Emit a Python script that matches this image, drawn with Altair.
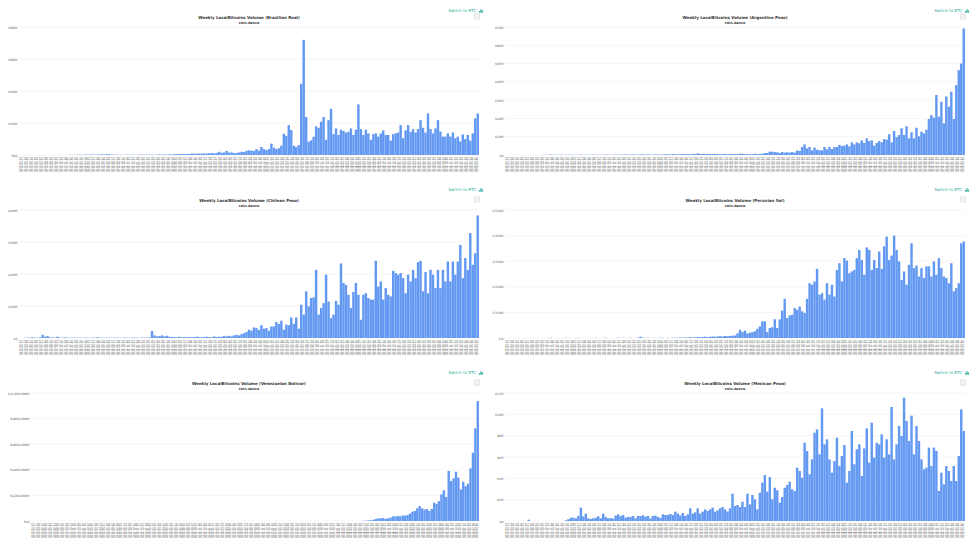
import altair as alt
import pandas as pd

dates = [d.strftime("%Y-%m-%d") for d in pd.date_range("2013-03-17", periods=185, freq="14D")]

brl = [0,0,0,0,0,0,0,0,0,0,0,0,0,0,0,0,0,0,0,0,
 .1,.1,.1,.1,.2,.1,.2,.2,.2,.3,.2,.3,.3,.4,.3,.5,.4,.2,.2,.2,
 .1,.1,.1,.2,.1,.2,.1,.1,.2,.2,.1,.2,.2,.2,.1,.2,.3,.2,.3,.2,
 .4,.3,.5,.5,.6,.5,.7,.6,.7,.9,.8,.8,.9,.8,1,.9,1.1,1.2,1,1.3,2,1.4,1.6,2.5,1.5,1.6,1.2,1.3,1.6,2,1.8,2.6,
 2.9,2.7,2.5,3.7,2.7,5,3.7,3.1,3.7,7.1,4.6,3.7,4.2,5.8,13.3,12,18.7,15.6,5.8,5,6.2,44.5,72,23.7,8.3,9.2,11.4,17.9,17,20.8,23.7,9.5,21.8,28.9,13,16.6,12.5,15.8,15,14,14.5,16.6,12.5,15.8,31.6,16.2,12.5,15.8,13.5,9.5,13,13.5,11.5,13.5,15.4,12.5,12.5,9,13,13.5,14,18.7,10.5,15.4,18.7,14.5,16.2,14,16.2,21.8,17,14,26,16.2,13.5,16.6,21.8,14.6,11.5,11.5,13.5,11.5,14.1,10.5,11.5,8.5,12.9,10,12.5,9,13.5,22.9,26]

ars = [0,0,0,0,0,0,0,0,0,0,0,0,0,0,0,.1,.1,.1,.2,.1,.1,.1,.2,.1,.1,.1,.2,.1,.1,.1,.2,.1,.1,.1,.1,.2,.1,.1,.1,.1,.2,.2,.1,.1,.2,.1,
 .2,.2,.3,.2,.2,.3,.2,.2,.3,.3,.2,.3,.2,.2,.3,.3,.2,.3,.4,.3,.3,.5,.4,.3,.4,.5,.4,.5,.4,.6,.5,.9,.5,.6,.5,.6,.5,.5,.6,.5,.4,.5,.6,.4,.5,.5,
 .5,.5,.7,.7,.5,.5,.4,.5,.7,.5,.5,.7,1.1,1.1,1.8,1.8,1.6,1.5,1.1,1.6,1.3,1.5,1.3,1.6,1.3,2.5,2.2,4.4,5.8,3.6,4.4,2.5,4,2.9,2.7,2.5,4.4,3.1,4.4,3.3,4.4,4.4,5.5,4.9,5.1,5.8,4.7,6.9,5.8,6.9,6.4,8,6.6,9.1,7.6,8,5.1,6.6,7.6,6.9,8.7,8.4,11.3,6.9,13.1,9.8,10.9,14.6,10.9,15.7,9.1,12.4,9.1,14.9,10.2,12.7,11.8,13.8,19.7,21.8,20.4,32.8,20.9,29.1,17.3,32,26.4,34.6,19.7,38.2,46.4,50,69.2]

clp = [0,.5,1,.5,2,1,1,2,10,4,6,2,2,1,4,1,1,2,1,.5,1,1,.5,1,.5,1,1,.5,1,1,2,1,1,.5,1,1,.5,1,1,.5,.5,1,1,.5,1,1,1,.5,1,1,1,2,22,8,5,6,8,5,7,4,3,3,2,4,2,3,2,3,2,3,4,3,2,3,4,3,2,5,3,4,4,6,5,7,5,8,10,8,12,15,19,
 26,23,33,31,25,40,29,31,23,36,36,50,44,54,26,42,40,64,44,64,29,104,73,146,99,125,127,213,73,94,109,198,114,62,73,116,104,233,172,166,135,94,144,172,135,57,135,140,125,120,120,241,161,177,120,156,135,130,210,203,198,203,187,140,198,177,213,187,237,241,146,206,140,213,198,156,213,156,213,177,239,177,239,198,239,291,187,250,213,328,229,265,383]

pen = [0,0,0,0,0,0,0,0,0,0,0,0,0,0,0,0,1,0,0,0,0,0,1,0,0,0,0,1,0,0,0,0,0,0,1,0,0,0,1,0,0,0,0,1,0,1,0,0,1,0,0,1,5,1,0,1,0,0,1,0,1,1,0,1,0,1,1,1,2,1,2,2,3,2,3,4,3,4,5,4,5,6,5,6,7,6,8,7,8,9,
 10,18,32,23,29,18,21,23,26,36,45,65,65,23,39,42,73,39,73,107,153,78,88,91,117,110,123,104,98,153,214,208,221,270,169,175,150,214,169,208,162,266,292,221,312,302,253,260,266,312,344,305,247,354,344,266,305,273,338,270,358,396,305,322,400,344,299,227,260,208,286,370,273,283,240,273,234,280,280,240,299,247,312,273,240,234,214,292,182,195,214,370,377]

ves = [1.3,2.6,5,5,10,16,21,21,23,16,21,26,36,36,39,36,44,42,47,57,73,78,99,117,99,89,94,78,94,143,135,156,208,240,187,391,312,333,385,339,247,307,273,292,411,534,724,937]

mxn = [.12,0,0,0,0,0,0,0,0,0,0,0,0,0,0,.06,.16,.31,.31,.25,.47,1.25,.44,.69,.25,.19,.25,.31,.44,.25,.69,.38,.25,.28,.22,.5,.62,.47,.56,.31,.38,.38,.47,.25,.47,.47,.53,.41,.47,.25,.47,.5,.38,.28,.62,.56,.56,.66,.56,.88,.69,.53,.75,.47,.62,1.19,.69,.81,1.19,.69,.88,1.09,.94,1.09,1.25,.88,1,1.19,1.31,1.09,.88,
 1.19,2.56,1.41,1.5,1.31,1.81,1.31,2.56,1.56,2.44,2.03,1.09,2.66,3.59,4.31,2.75,4.12,2.03,3.12,2.88,1.72,2.25,3.12,3.38,3.69,2.97,2.81,5,4.69,4.06,7.34,6.56,4.38,5.78,8.28,8.59,6.25,10.56,7.19,7.66,5.78,4.53,5.62,7.81,5.16,6.09,7.12,3.59,4.69,8.44,5.31,6.72,7.19,4.22,6.81,8.69,5.47,9.22,5.94,7.34,7.19,8.12,5.94,7.66,6.25,10.69,5.78,7.19,8.91,7.97,11.56,9.38,7.5,9.88,6.25,8.91,7.5,5.78,4.84,5,6.88,5.16,6.88,6.56,2.81,4.53,3.44,5.16,4.69,3.75,5.16,3.75,6.09,10.47,8.44]

BAR = "#6499f2"
TEAL = "#26a99a"
W, H = 460, 128
ICON = "M-1,1V0H-.45V1ZM-.3,1V-1H.3V1ZM.45,1V-.4H1V1Z"


def panel(name, values, ticks, label_expr, left=0, switch_y=-20):
    df = pd.DataFrame({"date": dates[-len(values):], "value": values})
    top = ticks[-1]
    y_scale = alt.Scale(domain=[0, top], nice=False)
    y_axis = alt.Axis(title=None, values=ticks, labelExpr=label_expr, grid=False, ticks=False,
                      domain=False, labelFontSize=3.1, labelColor="#666", labelFont="DejaVu Sans",
                      labelPadding=2, offset=-left)
    x_enc = alt.X("date:N", sort=None,
                  scale=alt.Scale(domain=dates, range=[left, W], paddingInner=0.02, paddingOuter=0.02),
                  axis=alt.Axis(title=None, labelAngle=-90, labelFontSize=2.6, labelOverlap=False,
                                labelColor="#555", labelFont="DejaVu Sans", ticks=False, domain=False,
                                labelPadding=1.5, grid=False))
    grid = alt.Chart(pd.DataFrame({"t": ticks})).mark_rule(color="#eeeeee", strokeWidth=0.6).encode(
        y=alt.Y("t:Q", scale=y_scale, axis=y_axis), x=alt.value(left), x2=alt.value(W))
    bars = alt.Chart(df).mark_bar(color=BAR).encode(x=x_enc, y=alt.Y("value:Q", scale=y_scale, axis=y_axis))
    anno = pd.DataFrame({"a": [0]})
    def txt(s, x, y, size, color, weight="normal", align="center"):
        return alt.Chart(anno).mark_text(text=s, fontSize=size, color=color, fontWeight=weight, align=align,
                                         font="DejaVu Sans", baseline="middle").encode(
            x=alt.value(x), y=alt.value(y))
    title = txt(f"Weekly LocalBitcoins Volume ({name})", W / 2, -8.7, 4.0, "#333", "bold")
    sub = txt("coin.dance", W / 2, -3.7, 3.4, "#333", "bold")
    switch = txt("Switch to BTC", 457, switch_y, 4.0, TEAL, align="right")
    icon = alt.Chart(anno).mark_point(shape=ICON, filled=True, color=TEAL, size=14, opacity=1).encode(
        x=alt.value(462), y=alt.value(switch_y))
    button = alt.Chart(anno).mark_point(shape="square", filled=True, fill="#f4f4f4", stroke="#cccccc",
                                        strokeWidth=0.5, size=26, opacity=1).encode(
        x=alt.value(458), y=alt.value(-10.5))
    return alt.layer(grid, bars, title, sub, switch, icon, button).resolve_scale(y="shared").properties(width=W, height=H)


c1 = panel("Brazilian Real", brl, [0, 20, 40, 60, 80], "datum.value==0?'R$0':'R$'+datum.value+'M'", switch_y=-16)
c2 = panel("Argentine Peso", ars, [0, 10, 20, 30, 40, 50, 60, 70], "datum.value==0?'$0':'$'+datum.value+'M'", switch_y=-16)
c3 = panel("Chilean Peso", clp, [0, 100, 200, 300, 400], "datum.value==0?'$0':'$'+datum.value+'M'")
c4 = panel("Peruvian Sol", pen, [0, 100, 200, 300, 400, 500], "datum.value==0?'S/0':'S/'+datum.value+'K'")
c5 = panel("Venezuelan Bolivar", ves, [0, 200, 400, 600, 800, 1000],
           "datum.value==0?'Bs0':'Bs'+format(datum.value*1000,',')+'M'", left=12)
c6 = panel("Mexican Peso", mxn, [0, 2, 4, 6, 8, 10, 12], "datum.value==0?'$0':'$'+datum.value+'M'")

rows = [alt.hconcat(a, b, spacing=26, bounds="flush") for a, b in [(c1, c2), (c3, c4), (c5, c6)]]
chart = alt.vconcat(*rows, spacing=183, bounds="flush").configure_view(stroke=None).properties(
    padding={"left": -2, "top": 1, "right": 0, "bottom": 0}, background="white")

chart.save("out.html", embed_options={"renderer": "svg", "actions": False})
